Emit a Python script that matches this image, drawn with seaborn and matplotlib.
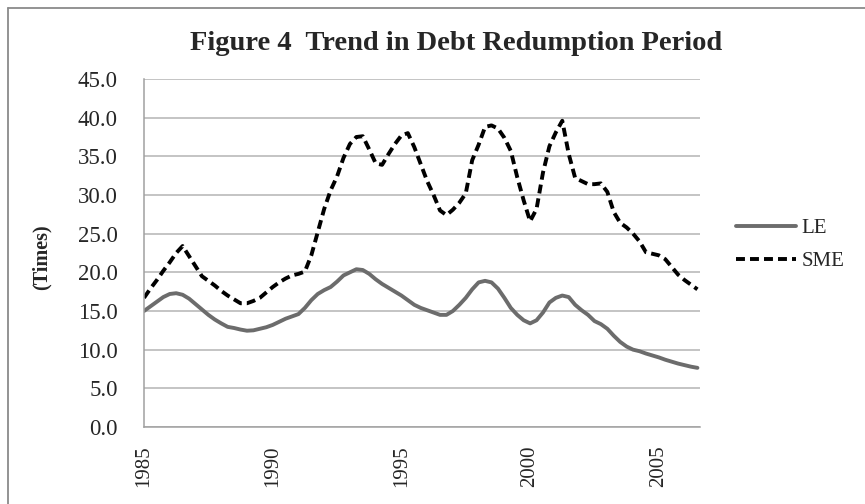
import matplotlib
matplotlib.use("Agg")
import matplotlib.pyplot as plt
from matplotlib.lines import Line2D
import numpy as np
import pandas as pd
import seaborn as sns

# quarterly values, 1985Q1 .. 2006Q3
le = [15.0, 15.6, 16.2, 16.8, 17.2, 17.3, 17.1, 16.6, 15.9, 15.2,
      14.5, 13.9, 13.4, 12.95, 12.8, 12.6, 12.45, 12.5, 12.7, 12.9,
      13.2, 13.6, 14.0, 14.3, 14.6, 15.4, 16.4, 17.2, 17.7, 18.1,
      18.8, 19.6, 20.0, 20.4, 20.3, 19.8, 19.1, 18.5, 18.0, 17.5,
      17.0, 16.4, 15.8, 15.4, 15.1, 14.8, 14.5, 14.5, 15.0, 15.8,
      16.7, 17.8, 18.7, 18.9, 18.7, 17.9, 16.7, 15.4, 14.5, 13.8,
      13.4, 13.8, 14.8, 16.1, 16.7, 17.0, 16.8, 15.8, 15.1, 14.5,
      13.7, 13.3, 12.7, 11.8, 11.0, 10.4, 10.0, 9.8, 9.5, 9.25,
      9.0, 8.7, 8.45, 8.2, 8.0, 7.8, 7.65]
sme = [16.7, 17.9, 19.0, 20.2, 21.3, 22.5, 23.4, 22.1, 20.8, 19.5,
       18.9, 18.3, 17.6, 17.0, 16.5, 16.0, 16.0, 16.3, 16.7, 17.4,
       18.1, 18.7, 19.2, 19.6, 19.8, 20.1, 22.2, 25.2, 28.2, 30.6,
       32.4, 34.8, 36.6, 37.5, 37.6, 35.9, 34.1, 33.9, 35.3, 36.6,
       37.7, 38.0, 36.2, 34.0, 31.8, 30.0, 28.0, 27.4, 28.1, 29.0,
       30.2, 34.5, 36.5, 38.8, 39.0, 38.6, 37.4, 35.7, 32.3, 29.3,
       26.6, 28.2, 32.9, 36.3, 38.1, 39.6, 35.3, 32.2, 31.8, 31.4,
       31.4, 31.5, 30.4, 27.8, 26.4, 25.8, 25.0, 24.0, 22.6, 22.4,
       22.2, 21.7, 20.7, 19.7, 19.0, 18.4, 17.8]
year_ticks = [1985, 1990, 1995, 2000, 2005]
y_ticks = [0, 5, 10, 15, 20, 25, 30, 35, 40, 45]

start_year = 1985
t = start_year + np.arange(len(le)) / 4
df = pd.DataFrame({"t": t, "LE": le, "SME": sme})

sns.set_style("white")
plt.rcParams["font.family"] = ["Liberation Serif", "DejaVu Serif"]

fig = plt.figure(figsize=(8.65, 5.04), dpi=100)
ax = fig.add_axes([144/865, 1-427/504, 556/865, 348/504])

sns.lineplot(data=df, x="t", y="LE", ax=ax, color="#6c6c6c", lw=2.8,
             label="LE", solid_capstyle="round")
sns.lineplot(data=df, x="t", y="SME", ax=ax, color="black", lw=2.8,
             linestyle=(0, (2.3, 1.3)), label="SME")

ax.set_xlim(start_year, 2006.6)
ax.set_ylim(0, 45)
ax.set_yticks(y_ticks)
ax.set_yticklabels([f"{v:.1f}" for v in y_ticks], fontsize=16.5)
ax.set_xticks(year_ticks)
ax.set_xticklabels([str(y) for y in year_ticks], rotation=90, fontsize=15)
ax.tick_params(axis="y", length=0, pad=19)
ax.tick_params(axis="x", length=0, pad=13)
ax.yaxis.grid(True, color="#b4b4b4", lw=1.1)
ax.set_axisbelow(True)
ax.set_xlabel("")
ax.set_ylabel("")
for s in ["top", "right"]:
    ax.spines[s].set_visible(False)
for s in ["left", "bottom"]:
    ax.spines[s].set_color("#a0a0a0")
    ax.spines[s].set_linewidth(1.1)

ax.legend(loc="center left", bbox_to_anchor=(736/865, 1-245/504),
          bbox_transform=fig.transFigure, frameon=False, fontsize=15,
          handlelength=2.9, handletextpad=0.25, labelspacing=0.65,
          borderpad=0, borderaxespad=0)

fig.text(456/865, 1-50/504, "Figure 4  Trend in Debt Redumption Period",
         ha="center", va="baseline", fontsize=20.5, fontweight="bold")
fig.text(42/865, 1-257/504, "(Times)", rotation=90, ha="center", va="center",
         fontsize=14.5, fontweight="bold")

# outer chart border (Excel chart area)
fig.add_artist(Line2D([8/865, 8/865], [0, 1-8/504], transform=fig.transFigure,
                      color="#8a8a8a", lw=1.3))
fig.add_artist(Line2D([8/865, 1], [1-8/504, 1-8/504], transform=fig.transFigure,
                      color="#8a8a8a", lw=1.3))

fig.savefig("out.png", dpi=100)
